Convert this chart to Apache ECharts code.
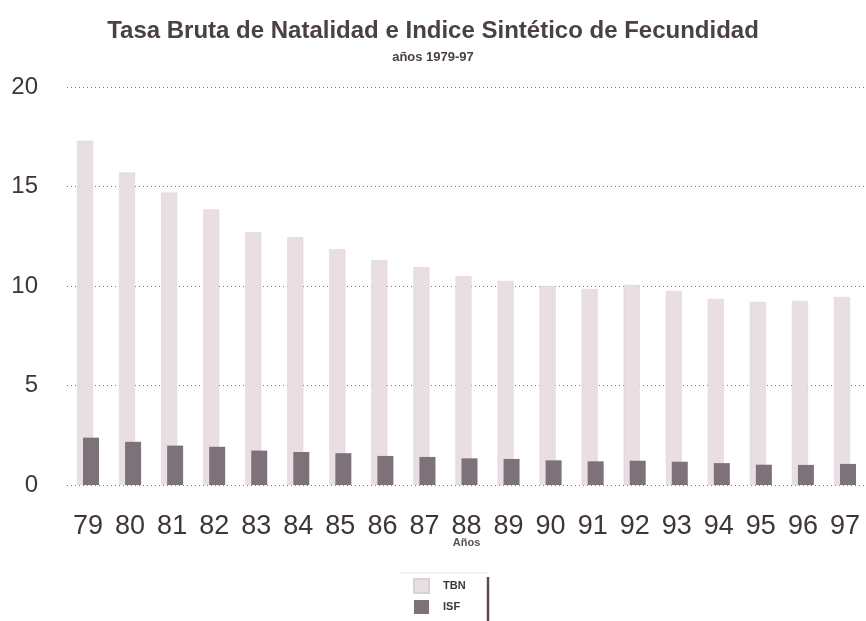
<!DOCTYPE html>
<html>
<head>
<meta charset="utf-8">
<script src="https://cdn.jsdelivr.net/npm/echarts@6/dist/echarts.min.js"></script>
<style>
  html, body { margin: 0; padding: 0; background: #fff; }
  #chart { width: 866px; height: 621px; }
</style>
</head>
<body>
<div id="chart"></div>
<script>
var years = ['79', '80', '81', '82', '83', '84', '85', '86', '87', '88', '89', '90', '91', '92', '93', '94', '95', '96', '97'];
var tbn = [17.3, 15.7, 14.7, 13.85, 12.7, 12.45, 11.85, 11.3, 10.95, 10.5, 10.25, 10.0, 9.85, 10.05, 9.75, 9.35, 9.2, 9.25, 9.45];
var isf = [2.38, 2.17, 1.98, 1.92, 1.73, 1.66, 1.6, 1.46, 1.41, 1.34, 1.31, 1.24, 1.19, 1.22, 1.17, 1.1, 1.02, 1.01, 1.06];
var yTicks = [0, 5, 10, 15, 20];

var font = "'Liberation Sans Narrow', 'Liberation Sans', Arial, sans-serif";
var chartDom = document.getElementById('chart');
var myChart = echarts.init(chartDom);
var option;

option = {
  backgroundColor: '#fff',
  animation: false,
  title: {
    text: 'Tasa Bruta de Natalidad e Indice Sintético de Fecundidad',
    subtext: 'años 1979-97',
    left: 'center',
    top: 14,
    itemGap: 8,
    textStyle: {
      fontFamily: font,
      fontSize: 24,
      fontWeight: 'bold',
      color: '#4a4048'
    },
    subtextStyle: {
      fontFamily: font,
      fontSize: 13,
      fontWeight: 'bold',
      color: '#4a4048'
    }
  },
  legend: {
    orient: 'vertical',
    left: 408,
    top: 573,
    icon: 'rect',
    itemWidth: 15,
    itemHeight: 14,
    itemGap: 6,
    textStyle: {
      fontFamily: font,
      fontSize: 11,
      fontWeight: 'bold',
      color: '#3d353b',
      padding: [0, 0, 0, 9]
    },
    data: ['TBN', 'ISF']
  },
  graphic: [
    {
      type: 'line',
      shape: { x1: 488, y1: 577, x2: 488, y2: 621 },
      style: { stroke: '#5b4a56', lineWidth: 2.5 }
    },
    {
      type: 'line',
      shape: { x1: 400, y1: 573, x2: 487, y2: 573 },
      style: { stroke: '#e4e0e2', lineWidth: 1 }
    }
  ],
  grid: {
    left: 67,
    right: -9,
    top: 87,
    bottom: 136
  },
  xAxis: {
    type: 'category',
    data: years,
    name: 'Años',
    nameLocation: 'middle',
    nameGap: 52,
    nameMoveOverlap: false,
    nameTextStyle: {
      fontFamily: font,
      fontSize: 11,
      fontWeight: 'bold',
      color: '#5a5057'
    },
    axisLine: { show: false },
    axisTick: { show: false },
    axisLabel: {
      margin: 28,
      fontFamily: "'Liberation Sans', Arial, sans-serif",
      fontSize: 27,
      color: '#3d353b'
    }
  },
  yAxis: {
    type: 'value',
    min: yTicks[0],
    max: yTicks[yTicks.length - 1],
    interval: yTicks[1] - yTicks[0],
    axisLine: { show: false },
    axisTick: { show: false },
    axisLabel: {
      margin: 29,
      fontFamily: "'Liberation Sans', Arial, sans-serif",
      fontSize: 24,
      color: '#3d353b'
    },
    splitLine: {
      lineStyle: {
        type: [1, 3],
        color: '#7e747c',
        width: 1
      }
    }
  },
  series: [
    {
      name: 'TBN',
      type: 'bar',
      data: tbn,
      barWidth: 16,
      barGap: '-62.5%',
      itemStyle: {
        color: '#e9dee2',
        borderColor: '#dcd0d5',
        borderWidth: 0.5
      }
    },
    {
      name: 'ISF',
      type: 'bar',
      data: isf,
      barWidth: 16,
      itemStyle: {
        color: '#7e727a'
      }
    }
  ]
};

option && myChart.setOption(option);
</script>
</body>
</html>
